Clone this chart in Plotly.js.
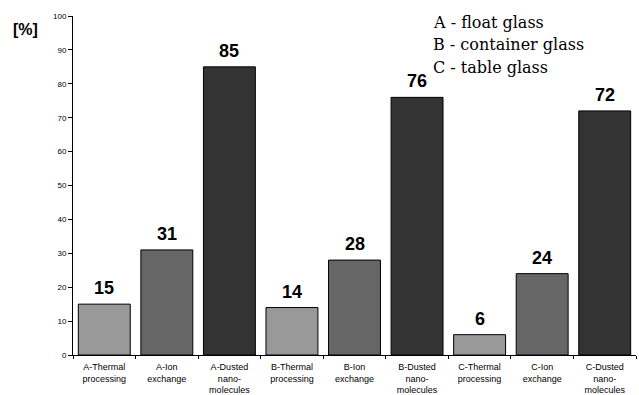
<!DOCTYPE html>
<html><head><meta charset="utf-8">
<script src="https://cdn.plot.ly/plotly-3.0.1.min.js"></script>
<style>html,body{margin:0;padding:0;background:#fff}#c{width:639px;height:395px}</style>
</head><body><div id="c"></div>
<script>
const categories = ["A-Thermal<br>processing","A-Ion<br>exchange","A-Dusted<br>nano-<br>molecules",
  "B-Thermal<br>processing","B-Ion<br>exchange","B-Dusted<br>nano-<br>molecules",
  "C-Thermal<br>processing","C-Ion<br>exchange","C-Dusted<br>nano-<br>molecules"];
const values = [15,31,85,14,28,76,6,24,72];
const barColors = ["#999999","#666666","#333333","#999999","#666666","#333333","#999999","#666666","#333333"];
const legendLines = ["A - float glass","B - container glass","C - table glass"];

const trace = {
  type:"bar", x:categories, y:values,
  marker:{color:barColors, line:{color:"#000", width:1}},
  hoverinfo:"none"
};
const ann = values.map((v,i)=>({
  text:"<b>"+v+"</b>", x:categories[i], y:v, xref:"x", yref:"y", xanchor:"center", yanchor:"bottom",
  yshift:4, showarrow:false, font:{family:"Liberation Sans, Arial", size:18, color:"#000"}
}));
legendLines.forEach((t,i)=>ann.push({
  text:t, xref:"paper", yref:"paper", x:0.636, y:0.982 - i*0.0675, xanchor:"left", yanchor:"middle",
  showarrow:false, font:{family:"DejaVu Serif", size:16, color:"#000"}
}));
ann.push({text:"<b>[%]</b>", xref:"paper", yref:"paper", x:-0.085, y:0.959, xanchor:"center", yanchor:"middle",
  showarrow:false, font:{family:"Liberation Sans, Arial", size:16, color:"#000"}});
const layout = {
  width:639, height:395, margin:{l:73, r:3, t:16, b:40},
  paper_bgcolor:"#fff", plot_bgcolor:"#fff", bargap:0.17, showlegend:false,
  xaxis:{type:"category", showline:true, linecolor:"#000", linewidth:1, ticks:"outside", tickson:"boundaries",
    ticklen:3, tickcolor:"#000", ticklabelstandoff:3,
    tickfont:{family:"Liberation Sans, Arial", size:9, color:"#000"}, showgrid:false, zeroline:false, tickangle:0},
  yaxis:{range:[0,100], dtick:10, showline:true, linecolor:"#000", linewidth:1, ticks:"outside", ticklen:4, tickcolor:"#000",
    tickfont:{family:"Liberation Sans, Arial", size:8, color:"#000"}, showgrid:false, zeroline:false},
  annotations:ann
};
Plotly.newPlot("c",[trace],layout,{staticPlot:true});
</script></body></html>
